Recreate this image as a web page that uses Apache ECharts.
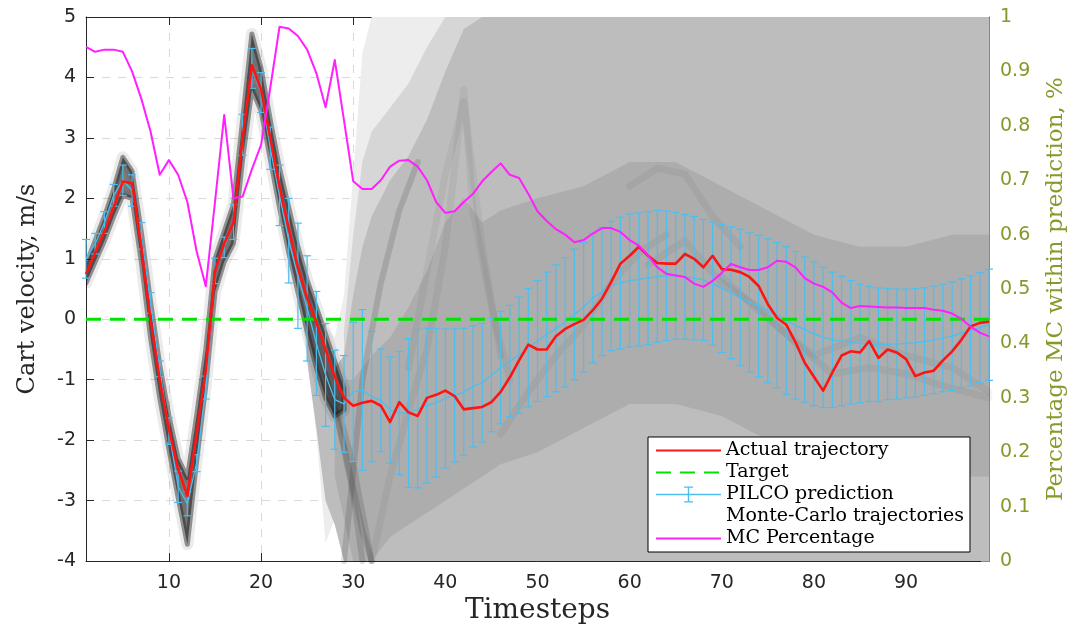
<!DOCTYPE html>
<html>
<head>
<meta charset="utf-8">
<script src="https://cdn.jsdelivr.net/npm/echarts@6/dist/echarts.min.js"></script>
<style>
  html, body { margin: 0; padding: 0; background: #ffffff; }
  #chart { width: 1079px; height: 630px; }
</style>
</head>
<body>
<div id="chart"></div>
<script>
// ---- data ---------------------------------------------------------------
const timesteps = [
  1,2,3,4,5,6,7,8,9,10,11,12,13,14,15,16,17,18,19,20,
  21,22,23,24,25,26,27,28,29,30,31,32,33,34,35,36,37,38,39,40,
  41,42,43,44,45,46,47,48,49,50,51,52,53,54,55,56,57,58,59,60,
  61,62,63,64,65,66,67,68,69,70,71,72,73,74,75,76,77,78,79,80,
  81,82,83,84,85,86,87,88,89,90,91,92,93,94,95,96,97,98,99
];
const xTickValues = [10, 20, 30, 40, 50, 60, 70, 80, 90];

// cart velocity of the real rollout (m/s)
const actualVelocity = [
  0.75,1.1,1.45,1.85,2.28,2.25,1.2,0.0,-1.0,-1.82,
  -2.48,-2.92,-1.9,-0.85,0.8,1.25,1.6,3.0,4.2,3.8,
  3.0,2.2,1.5,0.85,0.35,-0.05,-0.5,-0.95,-1.3,-1.43,
  -1.38,-1.35,-1.43,-1.70,-1.37,-1.54,-1.6,-1.3,-1.25,-1.18,
  -1.27,-1.49,-1.47,-1.45,-1.37,-1.2,-0.96,-0.68,-0.42,-0.5,
  -0.5,-0.28,-0.16,-0.08,-0.01,0.15,0.34,0.62,0.92,1.05,
  1.2,1.05,0.93,0.92,0.92,1.08,1.0,0.86,1.05,0.83,
  0.82,0.78,0.7,0.55,0.25,0.02,-0.09,-0.38,-0.72,-0.95,
  -1.18,-0.88,-0.6,-0.53,-0.55,-0.36,-0.64,-0.5,-0.55,-0.66,
  -0.94,-0.88,-0.85,-0.68,-0.53,-0.34,-0.12,-0.06,-0.04
];

// target velocity
const targetVelocity = 0;

// PILCO predicted mean and error-bar half width
const pilcoMean = [
  1.0,1.25,1.6,2.05,2.3,2.13,1.38,0.27,-0.82,-1.85,
  -2.77,-3.05,-2.38,-1.13,0.8,1.19,1.61,3.05,4.15,3.75,
  2.83,2.05,1.3,0.72,0.18,-0.4,-0.92,-1.33,-1.4,-1.2,
  -1.17,-1.28,-1.34,-1.5,-1.55,-1.55,-1.48,-1.43,-1.38,-1.31,
  -1.26,-1.2,-1.11,-1.05,-0.92,-0.8,-0.69,-0.59,-0.47,-0.36,
  -0.25,-0.15,-0.05,0.08,0.2,0.35,0.46,0.55,0.6,0.64,
  0.66,0.68,0.71,0.72,0.72,0.7,0.68,0.65,0.59,0.51,
  0.44,0.36,0.28,0.22,0.14,0.07,-0.02,-0.1,-0.17,-0.24,
  -0.3,-0.34,-0.36,-0.38,-0.4,-0.41,-0.42,-0.41,-0.41,-0.4,
  -0.39,-0.37,-0.34,-0.31,-0.28,-0.23,-0.19,-0.14,-0.09
];
const pilcoError = [
  0.32,0.17,0.18,0.18,0.25,0.26,0.22,0.17,0.13,0.22,
  0.26,0.2,0.14,0.19,0.21,0.17,0.29,0.34,0.33,0.33,
  0.35,0.5,0.7,0.87,0.87,0.86,0.85,0.82,0.8,1.15,
  1.33,1.08,0.85,0.88,1.02,1.23,1.31,1.28,1.23,1.15,
  1.1,1.05,1.0,0.98,0.94,0.93,0.92,0.96,0.98,1.0,
  1.03,1.05,1.07,1.08,1.07,1.07,1.06,1.07,1.09,1.1,
  1.1,1.1,1.09,1.07,1.05,1.03,1.02,1.0,1.02,1.06,
  1.09,1.13,1.15,1.17,1.19,1.2,1.22,1.22,1.2,1.19,
  1.16,1.12,1.07,1.02,0.98,0.95,0.94,0.92,0.91,0.9,
  0.9,0.89,0.89,0.89,0.9,0.9,0.91,0.91,0.92
];

// share of Monte-Carlo rollouts inside the prediction (right axis)
const mcPercentage = [
  0.945,0.936,0.94,0.94,0.936,0.90,0.85,0.79,0.71,0.737,
  0.71,0.66,0.57,0.505,0.66,0.82,0.667,0.67,0.72,0.765,
  0.87,0.982,0.979,0.965,0.94,0.897,0.834,0.921,0.81,0.698,
  0.684,0.684,0.70,0.725,0.736,0.737,0.725,0.70,0.66,0.64,
  0.643,0.66,0.675,0.698,0.715,0.731,0.71,0.704,0.675,0.643,
  0.625,0.61,0.60,0.586,0.59,0.602,0.612,0.612,0.605,0.59,
  0.58,0.562,0.54,0.528,0.525,0.522,0.51,0.504,0.515,0.53,
  0.546,0.54,0.535,0.535,0.54,0.552,0.55,0.54,0.52,0.51,
  0.504,0.494,0.475,0.465,0.469,0.468,0.467,0.466,0.466,0.465,
  0.465,0.465,0.462,0.46,0.455,0.445,0.431,0.42,0.413
];

// Monte-Carlo rollouts, first 29 steps: upper and lower edges of the bundle
const mcEdgeHigh = [
  0.9,1.3,1.7,2.15,2.68,2.45,1.45,0.3,-0.75,-1.6,
  -2.3,-2.62,-1.6,-0.5,1.0,1.45,1.9,3.3,4.72,4.15,
  3.3,2.5,1.85,1.2,0.65,0.2,-0.25,-0.7,-1.15
];
const mcEdgeLow = [
  0.6,0.95,1.3,1.7,2.05,2.0,0.95,-0.3,-1.3,-2.15,
  -2.95,-3.72,-2.35,-1.1,0.45,0.95,1.25,2.65,3.8,3.45,
  2.65,1.85,1.1,0.45,-0.2,-0.8,-1.3,-1.6,-1.5
];

// Monte-Carlo spread after divergence: [timestep, low, high]
const mcOuterBand = [
  [24,0.4,1.2],[25,-0.6,0.7],[26,-1.9,0.3],[27,-3.7,-0.1],[28,-3.3,-0.3],
  [29,-3.9,0.4],[30,-4,2.4],[31,-4,4.4],[32,-4,5],[99,-4,5]
];
const mcFringeBand = [
  [29,-4,-0.2],[30,-4,1.4],[31,-4,2.6],[32,-4,3.1],[34,-4,3.5],[36,-4,3.9],
  [38,-4,4.5],[40,-4,5],[99,-4,5]
];
const mcMidBand = [
  [25,-0.7,0.5],[26,-1.8,0.0],[27,-3.0,-0.5],[28,-3.4,-0.8],[29,-4,-0.6],
  [30,-4,0.4],[31,-4,1.2],[32,-4,1.7],[34,-4,2.3],[36,-4,2.7],[38,-4,3.3],
  [40,-4,4.1],[42,-4,4.8],[44,-4,5],[99,-4,5]
];
const mcCoreBand = [
  [28,-2.6,-1.0],[30,-4,-1.0],[32,-4,-0.6],[34,-3.6,-0.3],[36,-3.4,0.2],
  [38,-3.2,0.8],[40,-3.0,1.6],[42,-2.8,2.0],[44,-2.6,1.6],[46,-2.4,1.8],
  [50,-2.2,2.0],[55,-1.8,2.2],[60,-1.4,2.6],[65,-1.4,2.6],[70,-1.6,2.2],
  [75,-2.0,1.8],[80,-2.4,1.4],[85,-2.6,1.2],[90,-2.6,1.2],[95,-2.6,1.4],[99,-2.6,1.4]
];

// dense strands where many rollouts overlap
const mcFanStrands = [
  [[26,-0.5],[28,-1.4],[30,-2.9],[31,-4]],
  [[27,-0.9],[29,-2.1],[31,-3.5],[32,-4]],
  [[28,-1.3],[30,-2.4],[32,-4]],
  [[29,-4],[31,-1.0],[33,0.6],[35,1.8],[37,2.6]]
];
const mcStrands = [
  [[32,-4],[34,-2.6],[36,-1.5],[38,-0.5],[40,1.2],[42,3.8],[43,1.8],[45,0.2],[47,-1.0]],
  [[36,-0.8],[38,0.8],[40,2.4],[42,3.6],[44,1.2],[46,-0.6]],
  [[46,-1.9],[49,-1.2],[52,-0.6],[55,-0.1],[58,0.6],[61,1.1],[64,1.4]],
  [[62,0.9],[66,1.3],[70,0.6],[74,0.2],[78,-0.4],[82,-0.9],[86,-0.8],[90,-0.9],[94,-1.1],[99,-1.3]],
  [[70,0.7],[75,0.0],[80,-0.6],[85,-0.3],[90,-0.6],[95,-0.8],[99,-1.2]],
  [[60,2.2],[63,2.5],[66,2.4],[69,1.7],[72,1.2]]
];

// ---- styling ------------------------------------------------------------
const AXIS = '#262626';
const OLIVE = '#86992a';
const RED = '#ff1414';
const GREEN = '#00e400';
const CYAN = '#4dbeee';
const MAGENTA = '#ff1fff';
const SERIF = 'DejaVu Serif';
const SANS = 'DejaVu Sans';
const MC = 'Monte-Carlo trajectories';

const pairs = (xs, ys) => ys.map((v, i) => [xs[i], v]);

// filled region between a low and a high edge, drawn on the value axes
function bandSeries(band, style, z) {
  return {
    type: 'custom', name: MC, silent: true, z: z, clip: true,
    itemStyle: { color: '#999999' },
    data: [[band[0][0], band[0][1]]],
    renderItem(params, api) {
      const top = band.map(p => api.coord([p[0], p[2]]));
      const bottom = band.slice().reverse().map(p => api.coord([p[0], p[1]]));
      return { type: 'polygon', shape: { points: top.concat(bottom) }, style: style };
    }
  };
}

function mcLine(data, width, alpha) {
  return {
    type: 'line', name: MC, data: data, symbol: 'none', silent: true, z: 1,
    lineStyle: { color: 'rgba(20,20,20,' + alpha + ')', width: width, join: 'round', cap: 'round' }
  };
}

const earlyBand = mcEdgeHigh.map((h, i) => [timesteps[i], mcEdgeLow[i], h]);

const series = [];
series.push(bandSeries(mcOuterBand, { fill: '#ededed' }, 1));
series.push(bandSeries(mcFringeBand, { fill: '#d6d6d6' }, 1));
series.push(bandSeries(mcMidBand, { fill: '#bdbdbd' }, 1));
series.push(bandSeries(mcCoreBand, { fill: '#adadad' }, 1));
mcStrands.forEach(s => series.push(mcLine(s, 7, 0.05)));
mcFanStrands.forEach(s => series.push(mcLine(s, 6, 0.14)));
series.push(bandSeries(earlyBand, { fill: 'rgba(0,0,0,0.08)', stroke: 'rgba(0,0,0,0.08)', lineWidth: 12, lineJoin: 'round' }, 1));
series.push(bandSeries(earlyBand, { fill: 'rgba(30,30,30,0.55)', stroke: 'rgba(30,30,30,0.45)', lineWidth: 5, lineJoin: 'round' }, 1));

// PILCO error bars
series.push({
  type: 'custom', name: 'PILCO prediction', silent: true, z: 3,
  itemStyle: { color: CYAN },
  data: timesteps.map((t, i) => [t, pilcoMean[i] - pilcoError[i], pilcoMean[i] + pilcoError[i]]),
  encode: { x: 0, y: [1, 2] },
  renderItem(params, api) {
    const lo = api.coord([api.value(0), api.value(1)]);
    const hi = api.coord([api.value(0), api.value(2)]);
    const cap = 4;
    const st = { stroke: CYAN, lineWidth: 1.2 };
    return {
      type: 'group',
      children: [
        { type: 'line', shape: { x1: lo[0], y1: lo[1], x2: hi[0], y2: hi[1] }, style: st },
        { type: 'line', shape: { x1: lo[0] - cap, y1: lo[1], x2: lo[0] + cap, y2: lo[1] }, style: st },
        { type: 'line', shape: { x1: hi[0] - cap, y1: hi[1], x2: hi[0] + cap, y2: hi[1] }, style: st }
      ]
    };
  }
});
series.push({
  type: 'line', name: 'PILCO prediction', data: pairs(timesteps, pilcoMean),
  symbol: 'none', z: 3, color: CYAN,
  lineStyle: { color: CYAN, width: 1.3 }
});
series.push({
  type: 'line', name: 'Target',
  data: [[timesteps[0], targetVelocity], [timesteps[timesteps.length - 1], targetVelocity]],
  symbol: 'none', z: 4, color: GREEN,
  lineStyle: { color: GREEN, width: 3, type: [15, 9] }
});
series.push({
  type: 'line', name: 'Actual trajectory', data: pairs(timesteps, actualVelocity),
  symbol: 'none', z: 5, color: RED,
  lineStyle: { color: RED, width: 2.6, join: 'round' }
});
series.push({
  type: 'line', name: 'MC Percentage', yAxisIndex: 1, data: pairs(timesteps, mcPercentage),
  symbol: 'none', z: 5, color: MAGENTA,
  lineStyle: { color: MAGENTA, width: 2, join: 'round' }
});

const hiddenDot = { opacity: 0 };
const option = {
  animation: false,
  grid: { left: 86, right: 90, top: 17, bottom: 62 },
  legend: {
    orient: 'vertical', left: 648, top: 437,
    backgroundColor: '#ffffff', borderColor: '#000000', borderWidth: 1, borderRadius: 0,
    padding: [4, 6, 4, 7], itemWidth: 65, itemHeight: 16, itemGap: 3, itemTextGap: 7,
    textStyle: { fontFamily: SERIF, fontSize: 19, color: '#000000' },
    selectedMode: false,
    data: [
      { name: 'Actual trajectory', itemStyle: hiddenDot },
      { name: 'Target', itemStyle: hiddenDot },
      { name: 'PILCO prediction', itemStyle: { color: CYAN },
        icon: 'path://M0,7.3L65,7.3L65,8.7L0,8.7Z M31.8,0L33.2,0L33.2,16L31.8,16Z M28,0L37,0L37,1.2L28,1.2Z M28,14.8L37,14.8L37,16L28,16Z' },
      { name: MC, icon: 'none' },
      { name: 'MC Percentage', itemStyle: hiddenDot }
    ]
  },
  xAxis: [
    {
      type: 'value', min: 1, max: 99, position: 'bottom',
      name: 'Timesteps', nameLocation: 'middle', nameGap: 30,
      nameTextStyle: { fontFamily: SERIF, fontSize: 28, color: AXIS },
      axisLine: { show: true, onZero: false, lineStyle: { color: AXIS, width: 1 } },
      axisTick: { show: true, inside: true, length: 8, customValues: xTickValues, lineStyle: { color: AXIS } },
      axisLabel: { customValues: xTickValues, margin: 12, fontFamily: SANS, fontSize: 19, color: AXIS },
      splitLine: { show: true, lineStyle: { color: '#d9d9d9', width: 1, type: [8, 8] } }
    },
    {
      type: 'value', min: 1, max: 99, position: 'top',
      axisLine: { show: true, onZero: false, lineStyle: { color: AXIS, width: 1 } },
      axisTick: { show: true, inside: true, length: 8, customValues: xTickValues, lineStyle: { color: AXIS } },
      axisLabel: { show: false },
      splitLine: { show: false }
    }
  ],
  yAxis: [
    {
      type: 'value', min: -4, max: 5, interval: 1, position: 'left',
      name: 'Cart velocity, m/s', nameLocation: 'middle', nameGap: 46,
      nameTextStyle: { fontFamily: SERIF, fontSize: 24, color: AXIS },
      axisLine: { show: true, onZero: false, lineStyle: { color: AXIS, width: 1 } },
      axisTick: { show: true, inside: true, length: 8, lineStyle: { color: AXIS } },
      axisLabel: { margin: 10, fontFamily: SANS, fontSize: 19, color: AXIS },
      splitLine: { show: true, lineStyle: { color: '#d9d9d9', width: 1, type: [8, 8] } }
    },
    {
      type: 'value', min: 0, max: 1, interval: 0.1, position: 'right',
      name: 'Percentage MC within prediction, %', nameLocation: 'middle', nameGap: 56,
      nameTextStyle: { fontFamily: SERIF, fontSize: 23, color: OLIVE },
      axisLine: { show: true, onZero: false, lineStyle: { color: OLIVE, width: 1 } },
      axisTick: { show: true, inside: true, length: 8, lineStyle: { color: OLIVE } },
      axisLabel: { margin: 11, fontFamily: SANS, fontSize: 19, color: OLIVE },
      splitLine: { show: false }
    }
  ],
  series: series
};

const chart = echarts.init(document.getElementById('chart'), null, { renderer: 'canvas' });
chart.setOption(option);
</script>
</body>
</html>
